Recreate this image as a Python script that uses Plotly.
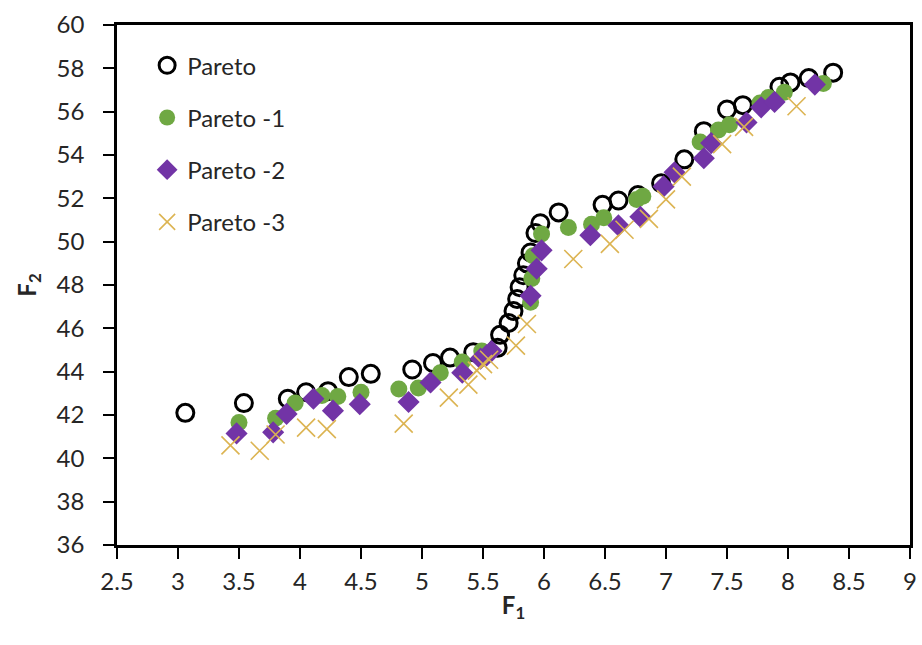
import plotly.graph_objects as go

# Pareto (black open circles)
p0_x = [3.06, 3.54, 3.90, 4.05, 4.23, 4.40, 4.58, 4.92, 5.09, 5.23, 5.42, 5.62, 5.64, 5.71, 5.75,
        5.78, 5.80, 5.83, 5.86, 5.89, 5.93, 5.97, 6.12, 6.48, 6.61, 6.77, 6.96, 7.15, 7.31, 7.50,
        7.63, 7.93, 8.02, 8.17, 8.37]
p0_y = [42.1, 42.55, 42.75, 43.05, 43.1, 43.75, 43.9, 44.1, 44.4, 44.65, 44.9, 45.1, 45.7, 46.25, 46.8,
        47.35, 47.9, 48.45, 49.0, 49.5, 50.4, 50.85, 51.35, 51.7, 51.9, 52.15, 52.7, 53.8, 55.1, 56.1,
        56.3, 57.15, 57.35, 57.55, 57.8]

# Pareto -1 (green circles)
p1_x = [3.50, 3.80, 3.96, 4.18, 4.31, 4.50, 4.81, 4.97, 5.15, 5.33, 5.49, 5.89, 5.90, 5.91, 5.98,
        6.20, 6.39, 6.49, 6.76, 6.81, 7.28, 7.43, 7.52, 7.77, 7.84, 7.97, 8.29]
p1_y = [41.65, 41.85, 42.55, 42.9, 42.85, 43.05, 43.2, 43.25, 43.95, 44.45, 44.95, 47.2, 48.3, 49.35, 50.35,
        50.65, 50.8, 51.1, 51.95, 52.1, 54.6, 55.15, 55.4, 56.4, 56.65, 56.9, 57.3]

# Pareto -2 (purple diamonds)
p2_x = [3.48, 3.78, 3.89, 4.11, 4.27, 4.49, 4.89, 5.07, 5.33, 5.48, 5.53, 5.57, 5.89, 5.94, 5.98,
        6.38, 6.61, 6.79, 6.98, 7.07, 7.31, 7.37, 7.66, 7.78, 7.89, 8.22]
p2_y = [41.15, 41.2, 42.05, 42.75, 42.2, 42.5, 42.6, 43.5, 43.95, 44.6, 44.75, 44.95, 47.5, 48.75, 49.6,
        50.3, 50.75, 51.15, 52.55, 53.2, 53.85, 54.55, 55.5, 56.2, 56.45, 57.25]

# Pareto -3 (gold crosses)
p3_x = [3.43, 3.67, 3.80, 4.05, 4.22, 4.85, 5.22, 5.38, 5.45, 5.50, 5.55, 5.77, 5.86, 6.24, 6.54,
        6.66, 6.86, 7.00, 7.13, 7.46, 7.64, 8.07]
p3_y = [40.6, 40.35, 41.1, 41.42, 41.35, 41.6, 42.8, 43.4, 44.05, 44.35, 44.55, 45.2, 46.2, 49.2, 49.9,
        50.55, 51.05, 51.95, 53.0, 54.5, 55.3, 56.25]

x_ticks = [2.5, 3, 3.5, 4, 4.5, 5, 5.5, 6, 6.5, 7, 7.5, 8, 8.5, 9]
y_ticks = [36, 38, 40, 42, 44, 46, 48, 50, 52, 54, 56, 58, 60]

FONT = "Lato, 'Open Sans', sans-serif"
TXT = "#262626"

fig = go.Figure()
fig.add_trace(go.Scatter(x=p0_x, y=p0_y, mode="markers", name="Pareto", legendgroup="a",
                         marker=dict(symbol="circle-open", size=17, color="black", line=dict(width=3, color="black"))))
fig.add_trace(go.Scatter(x=p1_x, y=p1_y, mode="markers", name="Pareto -1", legendgroup="b",
                         marker=dict(symbol="circle", size=17, color="#6FA843")))
fig.add_trace(go.Scatter(x=p2_x, y=p2_y, mode="markers", name="Pareto -2", legendgroup="c",
                         marker=dict(symbol="diamond", size=17, color="#7234A6")))
fig.add_trace(go.Scatter(x=p3_x, y=p3_y, mode="markers", name="Pareto -3", legendgroup="d",
                         marker=dict(symbol="x-thin-open", size=18, color="#DCB452",
                                     line=dict(width=1.6, color="#DCB452"))))

axis_common = dict(showline=True, linecolor="black", linewidth=2.5, mirror=True,
                   ticks="outside", ticklen=11, tickwidth=2, tickcolor="black",
                   showgrid=False, zeroline=False, automargin=False,
                   tickfont=dict(family=FONT, size=24, color=TXT))

fig.update_xaxes(range=[2.5, 9], tickvals=x_ticks, ticktext=[str(v) for v in x_ticks],
                 ticklabelstandoff=2,
                 title=dict(text="<b>F<sub>1</sub></b>", font=dict(family=FONT, size=24, color=TXT), standoff=4),
                 **axis_common)
fig.update_yaxes(range=[36, 60], tickvals=y_ticks, ticktext=[str(v) for v in y_ticks],
                 ticklabelstandoff=14,
                 title=dict(text="<b>F<sub>2</sub></b>", font=dict(family=FONT, size=24, color=TXT), standoff=14),
                 **axis_common)

fig.update_layout(
    width=922, height=645,
    margin=dict(l=117, r=12, t=25, b=100),
    plot_bgcolor="white", paper_bgcolor="white",
    legend=dict(x=0.038, y=0.965, xanchor="left", yanchor="top", bgcolor="rgba(0,0,0,0)",
                font=dict(family=FONT, size=24, color=TXT), tracegroupgap=18, itemsizing="trace"),
)

fig.write_html("out.html", config={"displayModeBar": False},
               post_script="document.body.style.margin='0';")
